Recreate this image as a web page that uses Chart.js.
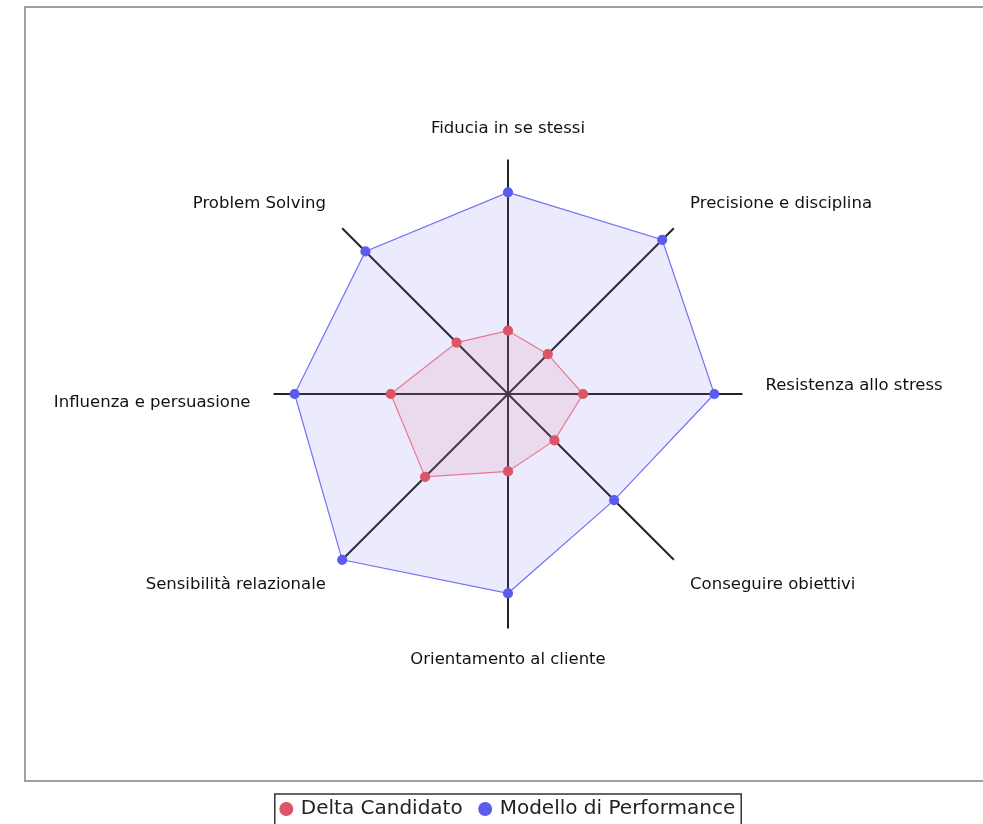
<!DOCTYPE html>
<html>
<head>
<meta charset="utf-8">
<script src="https://cdn.jsdelivr.net/npm/chart.js@4"></script>
<style>
  html, body { margin: 0; padding: 0; background: #fff; }
  .wrap { width: 983px; height: 824px; }
</style>
</head>
<body>
<div class="wrap"><canvas class="js-chart" width="983" height="824"></canvas></div>
<script>
(function () {

  const labels = [
    'Fiducia in se stessi',
    'Precisione e disciplina',
    'Resistenza allo stress',
    'Conseguire obiettivi',
    'Orientamento al cliente',
    'Sensibilità relazionale',
    'Influenza e persuasione',
    'Problem Solving',
  ];

  const deltaCandidato = [27, 24, 32, 28, 33, 50, 50, 31];
  const modelloPerformance = [86, 93, 88, 64, 85, 100, 91, 86];

  // gray frame round the plot and a box round the legend
  const frames = {
    id: 'frames',
    beforeDraw(chart) {
      const ctx = chart.ctx;
      ctx.save();
      ctx.fillStyle = '#fff';
      ctx.fillRect(0, 0, chart.width, chart.height);
      ctx.strokeStyle = '#a0a0a0';
      ctx.lineWidth = 2;
      ctx.strokeRect(25, 7, chart.width + 10, 774);
      ctx.restore();
    },
    afterDraw(chart) {
      const boxes = chart.legend.legendHitBoxes;
      if (!boxes || !boxes.length) return;
      let l = Infinity, r = -Infinity, t = Infinity;
      boxes.forEach(b => {
        l = Math.min(l, b.left);
        r = Math.max(r, b.left + b.width);
        t = Math.min(t, b.top);
      });
      const ctx = chart.ctx;
      ctx.save();
      ctx.strokeStyle = '#333';
      ctx.lineWidth = 1.5;
      ctx.strokeRect(l - 7, t - 5, r - l + 13, chart.height);
      ctx.restore();
    }
  };

  const data = {
    labels: labels,
    datasets: [
      {
        label: 'Delta Candidato',
        data: deltaCandidato,
        borderColor: '#e8798a',
        backgroundColor: 'rgba(235, 120, 140, 0.14)',
        pointBackgroundColor: '#dc5465',
        pointBorderColor: '#dc5465',
        borderWidth: 1.2,
        pointRadius: 4.5,
        fill: true,
      },
      {
        label: 'Modello di Performance',
        data: modelloPerformance,
        borderColor: '#7272f4',
        backgroundColor: 'rgba(110, 110, 240, 0.14)',
        pointBackgroundColor: '#5b5bee',
        pointBorderColor: '#5b5bee',
        borderWidth: 1.2,
        pointRadius: 4.5,
        fill: true,
      }
    ]
  };

  const config = {
    type: 'radar',
    data: data,
    plugins: [frames],
    options: {
      responsive: false,
      animation: false,
      layout: {
        padding: { top: 120, bottom: -5, left: 22, right: -12 }
      },
      plugins: {
        // empty title used as a spacer between plot and legend
        title: {
          display: true,
          position: 'bottom',
          text: '',
          weight: 10,
          font: { size: 10, lineHeight: 1 },
          padding: { top: 103, bottom: 0 }
        },
        legend: {
          position: 'bottom',
          labels: {
            color: '#222',
            font: { family: 'DejaVu Sans', size: 20 },
            usePointStyle: true,
            pointStyle: 'circle',
            boxHeight: 9,
            boxWidth: 9,
            padding: 18
          }
        },
        tooltip: { enabled: false }
      },
      scales: {
        r: {
          min: 0,
          max: 100,
          ticks: { display: false, stepSize: 20 },
          grid: { display: false },
          angleLines: { color: '#222', lineWidth: 2 },
          pointLabels: {
            color: '#111',
            font: { family: 'DejaVu Sans', size: 16.5, lineHeight: 1 },
            padding: 23,
            callback: (label, i) => {
              if (i === 2) return [label, ''];
              if (i === 6) return ['', label];
              return label;
            }
          }
        }
      }
    }
  };

  new Chart(document.querySelector('.js-chart'), config);

})();
</script>
</body>
</html>
